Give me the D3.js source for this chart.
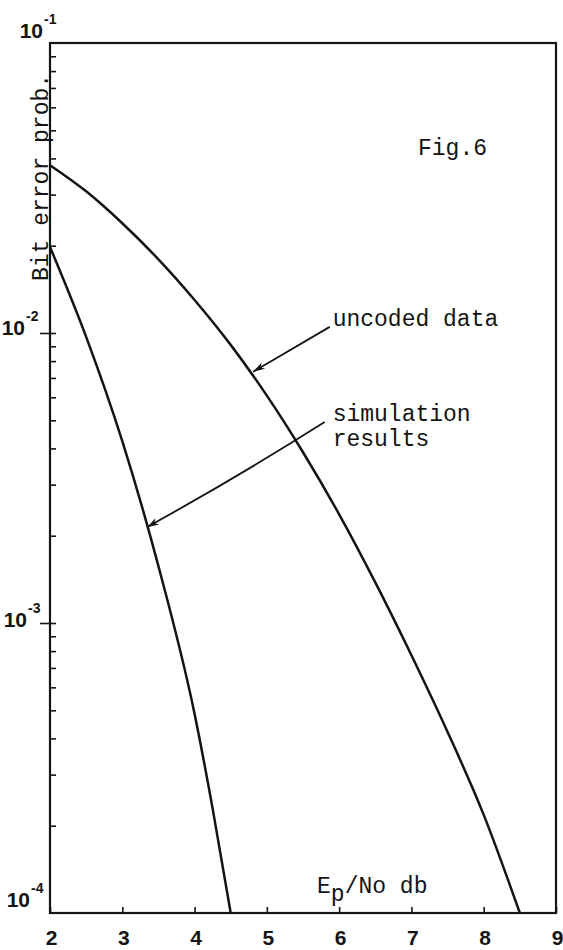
<!DOCTYPE html>
<html>
<head>
<meta charset="utf-8">
<script src="https://cdn.jsdelivr.net/npm/d3@7"></script>
<style>
  body { margin: 0; background: #fff; }
  svg { display: block; }
  .typed { font-family: "Liberation Mono", "DejaVu Sans Mono", monospace; font-size: 23px; fill: #141414; }
  .num { font-family: "Liberation Sans", Arial, sans-serif; font-weight: bold; fill: #141414; }
</style>
</head>
<body>
<svg id="chart" width="563" height="950"></svg>
<script>
// values
const xTicks = [2, 3, 4, 5, 6, 7, 8, 9];
const yDecades = [1e-1, 1e-2, 1e-3, 1e-4];
const yExponents = ['-1', '-2', '-3', '-4'];

const uncodedX = [2, 2.5, 3, 3.5, 4, 4.5, 5, 5.5, 6, 6.5, 7, 7.5, 8, 8.5];
const uncodedBer = [0.0379, 0.0308, 0.0239, 0.01795, 0.0130, 0.0091, 0.00608,
  0.00388, 0.00237, 0.00138, 0.000774, 0.000421, 0.000218, 0.0001];

const simX = [2, 2.5, 3, 3.5, 4, 4.25, 4.5];
const simBer = [0.0198, 0.0097, 0.00424, 0.00157, 0.000486, 0.000229, 0.0001];

// annotations, in data units (Eb/No, probability)
const noteLines = [['uncoded data'], ['simulation', 'results']];
const noteAt = [[5.91, 0.0106], [5.91, 0.00498]];
const arrowFrom = [[5.87, 0.0105], [5.80, 0.00493]];
const arrowTo = [[4.81, 0.00735], [3.34, 0.00214]];
const arrowBend = [0, 3];

const svg = d3.select('#chart');
const m = { left: 50, right: 556, top: 43, bottom: 913 };

const x = d3.scaleLinear().domain([2, 9]).range([m.left, m.right]);
const y = d3.scaleLog().domain([1e-4, 1e-1]).range([m.bottom, m.top]);

svg.append('defs')
  .append('marker')
  .attr('id', 'arrow')
  .attr('markerUnits', 'userSpaceOnUse')
  .attr('viewBox', '-13 -5 14 10')
  .attr('markerWidth', 14)
  .attr('markerHeight', 10)
  .attr('refX', 0)
  .attr('refY', 0)
  .attr('orient', 'auto')
  .append('path')
  .attr('d', 'M0,0 L-12,-3.6 L-8.5,0 L-12,3.6 Z')
  .attr('fill', '#141414');

// frame
svg.append('rect')
  .attr('x', m.left).attr('y', m.top)
  .attr('width', m.right - m.left).attr('height', m.bottom - m.top)
  .attr('fill', 'none')
  .attr('stroke', '#141414')
  .attr('stroke-width', 2.2);

// log minor ticks pointing inward
const minorTicks = y.ticks().filter((t) => t > 1e-4 && t < 1e-1);
const yMinor = svg.append('g')
  .attr('transform', `translate(${m.left},0)`)
  .call(d3.axisLeft(y).tickValues(minorTicks).tickSize(-6).tickFormat(''));
yMinor.select('.domain').remove();

// major ticks poke out to the left
const yMajor = svg.append('g')
  .attr('transform', `translate(${m.left},0)`)
  .call(d3.axisLeft(y).tickValues([1e-2, 1e-3]).tickSize(10).tickFormat(''));
yMajor.select('.domain').remove();

svg.selectAll('.tick line').attr('stroke', '#141414').attr('stroke-width', 1.6);

// x axis ticks inward, bold numerals below
const xAxis = svg.append('g')
  .attr('transform', `translate(0,${m.bottom})`)
  .call(d3.axisBottom(x).tickValues(xTicks).tickSize(-6).tickPadding(17)
    .tickFormat(d3.format('d')));
xAxis.select('.domain').remove();
xAxis.selectAll('.tick line').attr('stroke', '#141414').attr('stroke-width', 1.6);
xAxis.selectAll('.tick text')
  .attr('class', 'num')
  .attr('font-size', 21)
  .attr('dx', 1)
  .attr('fill', '#141414');

// decade labels 10^-n, "10" ends at the nudge point, exponent after it
const labelNudge = [[-7, -5], [-25, 2], [-23, 4], [-20, -6]];
const yLabels = svg.append('g').selectAll('text')
  .data(yDecades)
  .join('text')
  .attr('class', 'num')
  .attr('font-size', 21)
  .attr('y', (d, i) => y(d) + labelNudge[i][1]);
yLabels.append('tspan').text('10');
yLabels.append('tspan')
  .attr('font-size', 14)
  .attr('dx', 1)
  .attr('dy', -14)
  .text((d, i) => yExponents[i]);
yLabels.each(function (d, i) {
  const t = d3.select(this);
  const base = t.select('tspan').node().getComputedTextLength();
  t.attr('x', m.left + labelNudge[i][0] - base);
});

// curves
const line = d3.line()
  .x((d) => x(d[0]))
  .y((d) => y(d[1]))
  .curve(d3.curveMonotoneX);

const series = [d3.zip(uncodedX, uncodedBer), d3.zip(simX, simBer)];
svg.append('g')
  .selectAll('path')
  .data(series)
  .join('path')
  .attr('d', line)
  .attr('fill', 'none')
  .attr('stroke', '#141414')
  .attr('stroke-width', 2.5)
  .attr('stroke-linejoin', 'round');

// annotation arrows
svg.append('g')
  .selectAll('path')
  .data(arrowFrom)
  .join('path')
  .attr('d', (d, i) => {
    const x0 = x(d[0]), y0 = y(d[1]);
    const x1 = x(arrowTo[i][0]), y1 = y(arrowTo[i][1]);
    const len = Math.hypot(x1 - x0, y1 - y0);
    const nx = -(y1 - y0) / len, ny = (x1 - x0) / len;
    const b = -arrowBend[i];
    const cx = (x0 + x1) / 2 + nx * b, cy = (y0 + y1) / 2 + ny * b;
    return `M${x0},${y0} Q${cx},${cy} ${x1},${y1}`;
  })
  .attr('fill', 'none')
  .attr('stroke', '#141414')
  .attr('stroke-width', 1.8)
  .attr('marker-end', 'url(#arrow)');

// annotation text
svg.append('g')
  .selectAll('text')
  .data(noteLines)
  .join('text')
  .attr('class', 'typed')
  .attr('x', (d, i) => x(noteAt[i][0]))
  .attr('y', (d, i) => y(noteAt[i][1]))
  .selectAll('tspan')
  .data((d) => d)
  .join('tspan')
  .attr('x', function () { return this.parentNode.getAttribute('x'); })
  .attr('dy', (d, i) => (i === 0 ? 0 : 25))
  .text((d) => d);

// figure number
svg.append('text')
  .attr('class', 'typed')
  .attr('x', 418)
  .attr('y', 155)
  .text('Fig.6');

// axis titles
svg.append('text')
  .attr('class', 'typed')
  .attr('transform', `translate(${m.left - 2},281) rotate(-90)`)
  .text('Bit error prob.');

const xTitle = svg.append('text')
  .attr('class', 'typed')
  .attr('x', 317)
  .attr('y', m.bottom - 20);
xTitle.append('tspan').text('E');
xTitle.append('tspan').attr('dy', 8).text('p');
xTitle.append('tspan').attr('dy', -8).text('/No db');
</script>
</body>
</html>
